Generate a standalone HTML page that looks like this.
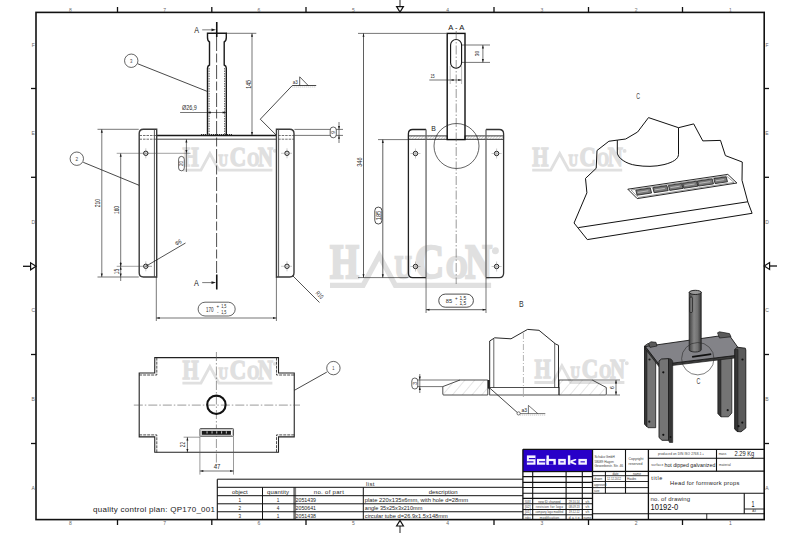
<!DOCTYPE html>
<html><head><meta charset="utf-8"><style>
html,body{margin:0;padding:0;background:#fff;}
svg{display:block;}
</style></head><body>
<svg width="800" height="533" viewBox="0 0 800 533" font-family="Liberation Sans, sans-serif">
<defs><pattern id="hat" patternUnits="userSpaceOnUse" width="2.2" height="4" patternTransform="rotate(40)"><line x1="0" y1="0" x2="0" y2="4" stroke="#777" stroke-width="0.6"/></pattern><pattern id="hat2" patternUnits="userSpaceOnUse" width="7.5" height="8" patternTransform="rotate(40)"><line x1="0" y1="0" x2="0" y2="8" stroke="#999" stroke-width="0.5"/></pattern></defs>
<rect width="800" height="533" fill="#fff"/>
<rect x="36" y="12.4" width="728.2" height="507.2" fill="none" stroke="#111" stroke-width="1.6"/>
<line x1="117.5" y1="7" x2="117.5" y2="12.4" stroke="#111" stroke-width="1.3" />
<line x1="117.5" y1="519.6" x2="117.5" y2="525" stroke="#111" stroke-width="1.3" />
<line x1="211.8" y1="7" x2="211.8" y2="12.4" stroke="#111" stroke-width="1.3" />
<line x1="211.8" y1="519.6" x2="211.8" y2="525" stroke="#111" stroke-width="1.3" />
<line x1="306" y1="7" x2="306" y2="12.4" stroke="#111" stroke-width="1.3" />
<line x1="306" y1="519.6" x2="306" y2="525" stroke="#111" stroke-width="1.3" />
<line x1="494" y1="7" x2="494" y2="12.4" stroke="#111" stroke-width="1.3" />
<line x1="494" y1="519.6" x2="494" y2="525" stroke="#111" stroke-width="1.3" />
<line x1="588.5" y1="7" x2="588.5" y2="12.4" stroke="#111" stroke-width="1.3" />
<line x1="588.5" y1="519.6" x2="588.5" y2="525" stroke="#111" stroke-width="1.3" />
<line x1="682.5" y1="7" x2="682.5" y2="12.4" stroke="#111" stroke-width="1.3" />
<line x1="682.5" y1="519.6" x2="682.5" y2="525" stroke="#111" stroke-width="1.3" />
<line x1="31" y1="88.5" x2="36" y2="88.5" stroke="#111" stroke-width="1.3" />
<line x1="764.2" y1="88.5" x2="769" y2="88.5" stroke="#111" stroke-width="1.3" />
<line x1="31" y1="177.3" x2="36" y2="177.3" stroke="#111" stroke-width="1.3" />
<line x1="764.2" y1="177.3" x2="769" y2="177.3" stroke="#111" stroke-width="1.3" />
<line x1="31" y1="354.5" x2="36" y2="354.5" stroke="#111" stroke-width="1.3" />
<line x1="764.2" y1="354.5" x2="769" y2="354.5" stroke="#111" stroke-width="1.3" />
<line x1="31" y1="443.5" x2="36" y2="443.5" stroke="#111" stroke-width="1.3" />
<line x1="764.2" y1="443.5" x2="769" y2="443.5" stroke="#111" stroke-width="1.3" />
<line x1="400" y1="0" x2="400" y2="7" stroke="#555" stroke-width="1.3" />
<polygon points="396.6,6.6 403.4,6.6 400,12" fill="none" stroke="#111" stroke-width="1.2"/>
<line x1="400" y1="526" x2="400" y2="533" stroke="#555" stroke-width="1.3" />
<polygon points="396.6,526 403.4,526 400,520.4" fill="none" stroke="#111" stroke-width="1.2"/>
<line x1="23" y1="266.3" x2="31" y2="266.3" stroke="#111" stroke-width="1.3" />
<polygon points="30.6,262.8 30.6,269.8 36,266.3" fill="none" stroke="#111" stroke-width="1.2"/>
<line x1="769" y1="266" x2="777" y2="266" stroke="#111" stroke-width="1.3" />
<polygon points="769.6,262.5 769.6,269.5 764.2,266" fill="none" stroke="#111" stroke-width="1.2"/>
<text x="70.4" y="11.5" font-size="5" fill="#666" text-anchor="middle" font-family="Liberation Sans" >8</text>
<text x="70.4" y="525" font-size="5" fill="#666" text-anchor="middle" font-family="Liberation Sans" >8</text>
<text x="164.7" y="11.5" font-size="5" fill="#666" text-anchor="middle" font-family="Liberation Sans" >7</text>
<text x="164.7" y="525" font-size="5" fill="#666" text-anchor="middle" font-family="Liberation Sans" >7</text>
<text x="259.0" y="11.5" font-size="5" fill="#666" text-anchor="middle" font-family="Liberation Sans" >6</text>
<text x="259.0" y="525" font-size="5" fill="#666" text-anchor="middle" font-family="Liberation Sans" >6</text>
<text x="353.29999999999995" y="11.5" font-size="5" fill="#666" text-anchor="middle" font-family="Liberation Sans" >5</text>
<text x="353.29999999999995" y="525" font-size="5" fill="#666" text-anchor="middle" font-family="Liberation Sans" >5</text>
<text x="447.6" y="11.5" font-size="5" fill="#666" text-anchor="middle" font-family="Liberation Sans" >4</text>
<text x="447.6" y="525" font-size="5" fill="#666" text-anchor="middle" font-family="Liberation Sans" >4</text>
<text x="541.9" y="11.5" font-size="5" fill="#666" text-anchor="middle" font-family="Liberation Sans" >3</text>
<text x="541.9" y="525" font-size="5" fill="#666" text-anchor="middle" font-family="Liberation Sans" >3</text>
<text x="636.1999999999999" y="11.5" font-size="5" fill="#666" text-anchor="middle" font-family="Liberation Sans" >2</text>
<text x="636.1999999999999" y="525" font-size="5" fill="#666" text-anchor="middle" font-family="Liberation Sans" >2</text>
<text x="730.5" y="11.5" font-size="5" fill="#666" text-anchor="middle" font-family="Liberation Sans" >1</text>
<text x="730.5" y="525" font-size="5" fill="#666" text-anchor="middle" font-family="Liberation Sans" >1</text>
<text x="33.2" y="46.5" font-size="5" fill="#666" text-anchor="middle" font-family="Liberation Sans" >F</text>
<text x="767" y="46.5" font-size="5" fill="#666" text-anchor="middle" font-family="Liberation Sans" >F</text>
<text x="33.2" y="135.1" font-size="5" fill="#666" text-anchor="middle" font-family="Liberation Sans" >E</text>
<text x="767" y="135.1" font-size="5" fill="#666" text-anchor="middle" font-family="Liberation Sans" >E</text>
<text x="33.2" y="223.7" font-size="5" fill="#666" text-anchor="middle" font-family="Liberation Sans" >D</text>
<text x="767" y="223.7" font-size="5" fill="#666" text-anchor="middle" font-family="Liberation Sans" >D</text>
<text x="33.2" y="312.29999999999995" font-size="5" fill="#666" text-anchor="middle" font-family="Liberation Sans" >C</text>
<text x="767" y="312.29999999999995" font-size="5" fill="#666" text-anchor="middle" font-family="Liberation Sans" >C</text>
<text x="33.2" y="400.9" font-size="5" fill="#666" text-anchor="middle" font-family="Liberation Sans" >B</text>
<text x="767" y="400.9" font-size="5" fill="#666" text-anchor="middle" font-family="Liberation Sans" >B</text>
<text x="33.2" y="489.5" font-size="5" fill="#666" text-anchor="middle" font-family="Liberation Sans" >A</text>
<text x="767" y="489.5" font-size="5" fill="#666" text-anchor="middle" font-family="Liberation Sans" >A</text>
<g transform="translate(182.4 148.25) scale(1)" fill="#e0e0e0" font-family="Liberation Serif" font-weight="bold" stroke="#e0e0e0" stroke-width="1.3"><text x="0" y="17.5" font-size="26.7" textLength="16.2" lengthAdjust="spacingAndGlyphs">H</text><path d="M0,21.85 L18.5,21.85 L27.5,5.2 L36.5,21.85 L90,21.85" fill="none" stroke="#e0e0e0" stroke-width="2.9" stroke-linejoin="miter"/><text x="36.2" y="17.5" font-size="17.2" textLength="9.4" lengthAdjust="spacingAndGlyphs">U</text><text x="47.3" y="17.5" font-size="26.7" textLength="16.4" lengthAdjust="spacingAndGlyphs">C</text><text x="64.8" y="17.5" font-size="17.8" textLength="12" lengthAdjust="spacingAndGlyphs">O</text><text x="75.6" y="17.5" font-size="26.7" textLength="15" lengthAdjust="spacingAndGlyphs">N</text><circle cx="92.4" cy="2.6" r="1.3"/></g>
<g transform="translate(532.2 148.3) scale(1)" fill="#e0e0e0" font-family="Liberation Serif" font-weight="bold" stroke="#e0e0e0" stroke-width="1.3"><text x="0" y="17.5" font-size="26.7" textLength="16.2" lengthAdjust="spacingAndGlyphs">H</text><path d="M0,21.85 L18.5,21.85 L27.5,5.2 L36.5,21.85 L90,21.85" fill="none" stroke="#e0e0e0" stroke-width="2.9" stroke-linejoin="miter"/><text x="36.2" y="17.5" font-size="17.2" textLength="9.4" lengthAdjust="spacingAndGlyphs">U</text><text x="47.3" y="17.5" font-size="26.7" textLength="16.4" lengthAdjust="spacingAndGlyphs">C</text><text x="64.8" y="17.5" font-size="17.8" textLength="12" lengthAdjust="spacingAndGlyphs">O</text><text x="75.6" y="17.5" font-size="26.7" textLength="15" lengthAdjust="spacingAndGlyphs">N</text><circle cx="92.4" cy="2.6" r="1.3"/></g>
<g transform="translate(330 246.2) scale(1.79)" fill="#e0e0e0" font-family="Liberation Serif" font-weight="bold" stroke="#e0e0e0" stroke-width="1.3"><text x="0" y="17.5" font-size="26.7" textLength="16.2" lengthAdjust="spacingAndGlyphs">H</text><path d="M0,21.85 L18.5,21.85 L27.5,5.2 L36.5,21.85 L90,21.85" fill="none" stroke="#e0e0e0" stroke-width="2.9" stroke-linejoin="miter"/><text x="36.2" y="17.5" font-size="17.2" textLength="9.4" lengthAdjust="spacingAndGlyphs">U</text><text x="47.3" y="17.5" font-size="26.7" textLength="16.4" lengthAdjust="spacingAndGlyphs">C</text><text x="64.8" y="17.5" font-size="17.8" textLength="12" lengthAdjust="spacingAndGlyphs">O</text><text x="75.6" y="17.5" font-size="26.7" textLength="15" lengthAdjust="spacingAndGlyphs">N</text><circle cx="92.4" cy="2.6" r="1.3"/></g>
<g transform="translate(182.4 361.25) scale(1)" fill="#e0e0e0" font-family="Liberation Serif" font-weight="bold" stroke="#e0e0e0" stroke-width="1.3"><text x="0" y="17.5" font-size="26.7" textLength="16.2" lengthAdjust="spacingAndGlyphs">H</text><path d="M0,21.85 L18.5,21.85 L27.5,5.2 L36.5,21.85 L90,21.85" fill="none" stroke="#e0e0e0" stroke-width="2.9" stroke-linejoin="miter"/><text x="36.2" y="17.5" font-size="17.2" textLength="9.4" lengthAdjust="spacingAndGlyphs">U</text><text x="47.3" y="17.5" font-size="26.7" textLength="16.4" lengthAdjust="spacingAndGlyphs">C</text><text x="64.8" y="17.5" font-size="17.8" textLength="12" lengthAdjust="spacingAndGlyphs">O</text><text x="75.6" y="17.5" font-size="26.7" textLength="15" lengthAdjust="spacingAndGlyphs">N</text><circle cx="92.4" cy="2.6" r="1.3"/></g>
<g transform="translate(534.4 360.6) scale(1)" fill="#e0e0e0" font-family="Liberation Serif" font-weight="bold" stroke="#e0e0e0" stroke-width="1.3"><text x="0" y="17.5" font-size="26.7" textLength="16.2" lengthAdjust="spacingAndGlyphs">H</text><path d="M0,21.85 L18.5,21.85 L27.5,5.2 L36.5,21.85 L90,21.85" fill="none" stroke="#e0e0e0" stroke-width="2.9" stroke-linejoin="miter"/><text x="36.2" y="17.5" font-size="17.2" textLength="9.4" lengthAdjust="spacingAndGlyphs">U</text><text x="47.3" y="17.5" font-size="26.7" textLength="16.4" lengthAdjust="spacingAndGlyphs">C</text><text x="64.8" y="17.5" font-size="17.8" textLength="12" lengthAdjust="spacingAndGlyphs">O</text><text x="75.6" y="17.5" font-size="26.7" textLength="15" lengthAdjust="spacingAndGlyphs">N</text><circle cx="92.4" cy="2.6" r="1.3"/></g>
<path d="M207.5,135.5 L207.5,68 Q207.5,66 209.5,65 L209.5,42 Q207.5,41 207.5,37.5 L207.5,33.3 L226.3,33.3 L226.3,37.5 Q226.3,41 224.2,42 L224.2,65 Q226.3,66 226.3,68 L226.3,135.5" stroke="#1a1a1a" stroke-width="1.4" fill="none" />
<path d="M201,134.6 L232,134.6" stroke="#333" stroke-width="1.2" fill="none" stroke-dasharray="1.2 0.8"/>
<line x1="216.6" y1="37" x2="216.6" y2="273" stroke="#222" stroke-width="0.8" stroke-dasharray="14 2.5 9 2.5"/>
<line x1="209.1" y1="68" x2="209.1" y2="135" stroke="#555" stroke-width="0.9" stroke-dasharray="1.5 1"/>
<line x1="224.6" y1="68" x2="224.6" y2="135" stroke="#555" stroke-width="0.9" stroke-dasharray="1.5 1"/>
<line x1="216.75" y1="22" x2="216.75" y2="37" stroke="#111" stroke-width="1.6" />
<line x1="202.2" y1="29.85" x2="212" y2="29.85" stroke="#444" stroke-width="0.7" />
<polygon points="216.00,29.85 211.50,31.15 211.50,28.55" fill="#1a1a1a"/>
<text x="196.6" y="32.75" font-size="8.4" fill="#111" text-anchor="middle" font-family="Liberation Sans"  textLength="4.8" lengthAdjust="spacingAndGlyphs">A</text>
<line x1="216.75" y1="274.5" x2="216.75" y2="289.5" stroke="#111" stroke-width="1.6" />
<line x1="202.2" y1="282.6" x2="212" y2="282.6" stroke="#444" stroke-width="0.7" />
<polygon points="216.00,282.60 211.50,283.90 211.50,281.30" fill="#1a1a1a"/>
<text x="196.4" y="285.6" font-size="8.4" fill="#111" text-anchor="middle" font-family="Liberation Sans"  textLength="4.8" lengthAdjust="spacingAndGlyphs">A</text>
<line x1="156.3" y1="135.5" x2="276.4" y2="135.5" stroke="#1a1a1a" stroke-width="1.3" />
<line x1="156.3" y1="139.2" x2="276.4" y2="139.2" stroke="#1a1a1a" stroke-width="0.8" />
<line x1="139.5" y1="135.5" x2="156.3" y2="135.5" stroke="#333" stroke-width="0.7" stroke-dasharray="2.5 1"/>
<line x1="139.5" y1="139.2" x2="156.3" y2="139.2" stroke="#333" stroke-width="0.7" stroke-dasharray="2.5 1"/>
<line x1="278.2" y1="135.5" x2="294" y2="135.5" stroke="#333" stroke-width="0.7" stroke-dasharray="2.5 1"/>
<line x1="278.2" y1="139.2" x2="294" y2="139.2" stroke="#333" stroke-width="0.7" stroke-dasharray="2.5 1"/>
<path d="M156.7,129.3 L143.4,129.3 Q139.2,129.3 139.2,133.5 L139.2,272.8 Q139.2,277 143.4,277 L156.7,277 Z" stroke="#3a3a3a" stroke-width="1.4" fill="none" />
<line x1="154.4" y1="129.3" x2="154.4" y2="277" stroke="#444" stroke-width="0.9" />
<path d="M276.45,129.3 L289.8,129.3 Q294,129.3 294,133.5 L294,272.8 Q294,277 289.8,277 L276.45,277 Z" stroke="#3a3a3a" stroke-width="1.4" fill="none" />
<line x1="278.6" y1="129.3" x2="278.6" y2="277" stroke="#444" stroke-width="0.9" />
<circle cx="145.8" cy="153.3" r="2.2" fill="none" stroke="#1a1a1a" stroke-width="1"/>
<line x1="145.8" y1="148.3" x2="145.8" y2="158.3" stroke="#777" stroke-width="0.4" />
<circle cx="145.8" cy="266.3" r="2.2" fill="none" stroke="#1a1a1a" stroke-width="1"/>
<line x1="145.8" y1="261.3" x2="145.8" y2="271.3" stroke="#777" stroke-width="0.4" />
<circle cx="287" cy="153.3" r="2.2" fill="none" stroke="#1a1a1a" stroke-width="1"/>
<line x1="287" y1="148.3" x2="287" y2="158.3" stroke="#777" stroke-width="0.4" />
<circle cx="287" cy="266.3" r="2.2" fill="none" stroke="#1a1a1a" stroke-width="1"/>
<line x1="287" y1="261.3" x2="287" y2="271.3" stroke="#777" stroke-width="0.4" />
<line x1="116.7" y1="153.3" x2="190.5" y2="153.3" stroke="#444" stroke-width="0.5" />
<line x1="116.7" y1="266.3" x2="152" y2="266.3" stroke="#444" stroke-width="0.5" />
<line x1="281" y1="153.3" x2="292" y2="153.3" stroke="#777" stroke-width="0.4" />
<line x1="281" y1="266.3" x2="292" y2="266.3" stroke="#777" stroke-width="0.4" />
<line x1="97.5" y1="129.3" x2="138.75" y2="129.3" stroke="#1a1a1a" stroke-width="0.6" />
<line x1="97.5" y1="277" x2="138.75" y2="277" stroke="#1a1a1a" stroke-width="0.6" />
<line x1="101.8" y1="129.3" x2="101.8" y2="277" stroke="#1a1a1a" stroke-width="0.6" />
<polygon points="101.80,129.50 102.80,132.70 100.80,132.70" fill="#1a1a1a"/>
<polygon points="101.80,276.80 100.80,273.60 102.80,273.60" fill="#1a1a1a"/>
<text x="99.75" y="203.1" font-size="6.3" fill="#2a2a2a" text-anchor="middle" font-family="Liberation Sans" transform="rotate(-90 99.75 203.1)"  textLength="8.25" lengthAdjust="spacingAndGlyphs">210</text>
<line x1="120.7" y1="153.3" x2="120.7" y2="266.3" stroke="#1a1a1a" stroke-width="0.6" />
<polygon points="120.70,153.50 121.70,156.70 119.70,156.70" fill="#1a1a1a"/>
<polygon points="120.70,266.10 119.70,262.90 121.70,262.90" fill="#1a1a1a"/>
<text x="118.9" y="210" font-size="6.3" fill="#2a2a2a" text-anchor="middle" font-family="Liberation Sans" transform="rotate(-90 118.9 210)"  textLength="7.9" lengthAdjust="spacingAndGlyphs">160</text>
<line x1="120.7" y1="262" x2="120.7" y2="281" stroke="#1a1a1a" stroke-width="0.6" />
<polygon points="120.70,266.50 121.70,269.70 119.70,269.70" fill="#1a1a1a"/>
<polygon points="120.70,276.80 119.70,273.60 121.70,273.60" fill="#1a1a1a"/>
<text x="118.9" y="271.6" font-size="6.3" fill="#2a2a2a" text-anchor="middle" font-family="Liberation Sans" transform="rotate(-90 118.9 271.6)"  textLength="5.3" lengthAdjust="spacingAndGlyphs">15</text>
<line x1="226" y1="33.3" x2="256.3" y2="33.3" stroke="#1a1a1a" stroke-width="0.6" />
<line x1="252" y1="33.3" x2="252" y2="135.5" stroke="#1a1a1a" stroke-width="0.6" />
<polygon points="252.00,33.50 253.00,36.70 251.00,36.70" fill="#1a1a1a"/>
<polygon points="252.00,135.30 251.00,132.10 253.00,132.10" fill="#1a1a1a"/>
<text x="250.6" y="84.4" font-size="6.3" fill="#2a2a2a" text-anchor="middle" font-family="Liberation Sans" transform="rotate(-90 250.6 84.4)"  textLength="8.75" lengthAdjust="spacingAndGlyphs">145</text>
<line x1="180.1" y1="112.5" x2="226" y2="112.5" stroke="#1a1a1a" stroke-width="0.6" />
<polygon points="207.70,112.50 210.90,111.50 210.90,113.50" fill="#1a1a1a"/>
<polygon points="225.80,112.50 222.60,113.50 222.60,111.50" fill="#1a1a1a"/>
<text x="182" y="109.6" font-size="6.5" fill="#2a2a2a" text-anchor="start" font-family="Liberation Sans"  textLength="14.8" lengthAdjust="spacingAndGlyphs">Ø26,9</text>
<line x1="186.4" y1="139.2" x2="186.4" y2="172" stroke="#1a1a1a" stroke-width="0.6" />
<polygon points="186.40,139.40 187.40,142.60 185.40,142.60" fill="#1a1a1a"/>
<polygon points="186.40,153.10 185.40,149.90 187.40,149.90" fill="#1a1a1a"/>
<rect x="178.6" y="156.4" width="5.7" height="14.4" rx="2.85" fill="#fff" stroke="#222" stroke-width="0.7"/>
<text x="183.5" y="163.6" font-size="5.8" fill="#2a2a2a" text-anchor="middle" font-family="Liberation Sans" transform="rotate(-90 183.5 163.6)"  textLength="5" lengthAdjust="spacingAndGlyphs">20</text>
<line x1="294.4" y1="129.4" x2="343" y2="129.4" stroke="#1a1a1a" stroke-width="0.6" />
<line x1="294.4" y1="135.4" x2="343" y2="135.4" stroke="#1a1a1a" stroke-width="0.6" />
<line x1="339" y1="122" x2="339" y2="143" stroke="#1a1a1a" stroke-width="0.6" />
<polygon points="339.00,129.20 338.00,126.00 340.00,126.00" fill="#1a1a1a"/>
<polygon points="339.00,135.60 340.00,138.80 338.00,138.80" fill="#1a1a1a"/>
<rect x="330.2" y="127" width="6.1" height="10.8" rx="3" fill="#fff" stroke="#222" stroke-width="0.7"/>
<text x="335.4" y="132.4" font-size="5.8" fill="#2a2a2a" text-anchor="middle" font-family="Liberation Sans" transform="rotate(-90 335.4 132.4)"  textLength="2.8" lengthAdjust="spacingAndGlyphs">9</text>
<line x1="156.3" y1="277" x2="156.3" y2="321" stroke="#1a1a1a" stroke-width="0.6" />
<line x1="276.4" y1="277" x2="276.4" y2="321" stroke="#1a1a1a" stroke-width="0.6" />
<line x1="156.3" y1="318" x2="276.4" y2="318" stroke="#1a1a1a" stroke-width="0.6" />
<polygon points="156.50,318.00 159.70,317.00 159.70,319.00" fill="#1a1a1a"/>
<polygon points="276.20,318.00 273.00,319.00 273.00,317.00" fill="#1a1a1a"/>
<rect x="198.1" y="302.2" width="37.1" height="13.8" rx="6.9" fill="#fff" stroke="#222" stroke-width="0.7"/>
<text x="209.8" y="311.8" font-size="6.6" fill="#2a2a2a" text-anchor="middle" font-family="Liberation Sans"  textLength="7.6" lengthAdjust="spacingAndGlyphs">170</text>
<text x="217.8" y="308" font-size="4.5" fill="#2a2a2a" text-anchor="middle" font-family="Liberation Sans" >+</text>
<text x="217.8" y="313.5" font-size="4.5" fill="#2a2a2a" text-anchor="middle" font-family="Liberation Sans" >-</text>
<text x="223.8" y="307.8" font-size="5.2" fill="#2a2a2a" text-anchor="middle" font-family="Liberation Sans"  textLength="5.3" lengthAdjust="spacingAndGlyphs">1,5</text>
<text x="223.8" y="313.7" font-size="5.2" fill="#2a2a2a" text-anchor="middle" font-family="Liberation Sans"  textLength="5.3" lengthAdjust="spacingAndGlyphs">1,5</text>
<line x1="145.8" y1="266.3" x2="185.5" y2="243" stroke="#1a1a1a" stroke-width="0.75" />
<text x="179.3" y="244.3" font-size="6.3" fill="#2a2a2a" text-anchor="middle" font-family="Liberation Sans" transform="rotate(-30 179.3 244.3)"  textLength="6.5" lengthAdjust="spacingAndGlyphs">Φ6</text>
<line x1="292.5" y1="275.5" x2="319.5" y2="302.5" stroke="#1a1a1a" stroke-width="0.75" />
<text x="318.2" y="296.4" font-size="6.3" fill="#2a2a2a" text-anchor="middle" font-family="Liberation Sans" transform="rotate(45 318.2 296.4)"  textLength="8" lengthAdjust="spacingAndGlyphs">R10</text>
<path d="M276.1,135 L260.3,119.2 L292.3,85.5 L316.2,85.5" stroke="#1a1a1a" stroke-width="0.8" fill="none" />
<path d="M299.7,85.5 L299.7,76.8 L308.2,85.5" stroke="#1a1a1a" stroke-width="0.7" fill="none" />
<line x1="292.3" y1="87" x2="316.2" y2="87" stroke="#555" stroke-width="0.4" stroke-dasharray="1 1"/>
<text x="295.3" y="84" font-size="5.5" fill="#2a2a2a" text-anchor="middle" font-family="Liberation Sans"  textLength="5" lengthAdjust="spacingAndGlyphs">a3</text>
<circle cx="131.25" cy="60.75" r="6.7" fill="#fff" stroke="#222" stroke-width="0.7"/>
<text x="131.25" y="62.8" font-size="5.8" fill="#444" text-anchor="middle" font-family="Liberation Sans"  textLength="2.4" lengthAdjust="spacingAndGlyphs">3</text>
<line x1="137.7" y1="63.75" x2="206.9" y2="91.25" stroke="#1a1a1a" stroke-width="0.8" />
<circle cx="76.8" cy="158.7" r="6.7" fill="#fff" stroke="#222" stroke-width="0.7"/>
<text x="76.8" y="160.8" font-size="5.8" fill="#444" text-anchor="middle" font-family="Liberation Sans"  textLength="2.6" lengthAdjust="spacingAndGlyphs">2</text>
<line x1="83.25" y1="162.3" x2="139" y2="185.25" stroke="#1a1a1a" stroke-width="0.8" />
<text x="456.3" y="30" font-size="7.6" fill="#111" text-anchor="middle" font-family="Liberation Sans"  textLength="16" lengthAdjust="spacing">A-A</text>
<rect x="408.4" y="135.9" width="38.8" height="3.4" fill="url(#hat)" stroke="#222" stroke-width="0.9"/>
<rect x="465" y="135.9" width="38.6" height="3.4" fill="url(#hat)" stroke="#222" stroke-width="0.9"/>
<rect x="447.2" y="33.4" width="17.8" height="106.2" fill="none" stroke="#111" stroke-width="1.4"/>
<rect x="450.6" y="39.5" width="11" height="28.7" rx="5.5" fill="none" stroke="#111" stroke-width="1.1"/>
<line x1="456.2" y1="31" x2="456.2" y2="284" stroke="#555" stroke-width="0.6" stroke-dasharray="9 2 1.5 2"/>
<path d="M426.05,129.5 L412.7,129.5 Q408.4,129.5 408.4,133.8 L408.4,273.3 Q408.4,277.6 412.7,277.6 L426.05,277.6" stroke="#222" stroke-width="1.3" fill="none" />
<line x1="426.05" y1="129.5" x2="426.05" y2="277.6" stroke="#666" stroke-width="1.3" />
<path d="M486,129.5 L499.3,129.5 Q503.6,129.5 503.6,133.8 L503.6,273.3 Q503.6,277.6 499.3,277.6 L486,277.6" stroke="#333" stroke-width="1.3" fill="none" />
<line x1="486" y1="129.5" x2="486" y2="277.6" stroke="#666" stroke-width="1.3" />
<circle cx="415.5" cy="153.5" r="2.2" fill="none" stroke="#1a1a1a" stroke-width="1"/>
<line x1="410.5" y1="153.5" x2="420.5" y2="153.5" stroke="#777" stroke-width="0.4" />
<line x1="415.5" y1="148.5" x2="415.5" y2="158.5" stroke="#777" stroke-width="0.4" />
<circle cx="496.6" cy="153.5" r="2.2" fill="none" stroke="#1a1a1a" stroke-width="1"/>
<line x1="491.6" y1="153.5" x2="501.6" y2="153.5" stroke="#777" stroke-width="0.4" />
<line x1="496.6" y1="148.5" x2="496.6" y2="158.5" stroke="#777" stroke-width="0.4" />
<circle cx="415.5" cy="266.5" r="2.2" fill="none" stroke="#1a1a1a" stroke-width="1"/>
<line x1="410.5" y1="266.5" x2="420.5" y2="266.5" stroke="#777" stroke-width="0.4" />
<line x1="415.5" y1="261.5" x2="415.5" y2="271.5" stroke="#777" stroke-width="0.4" />
<circle cx="496.6" cy="266.5" r="2.2" fill="none" stroke="#1a1a1a" stroke-width="1"/>
<line x1="491.6" y1="266.5" x2="501.6" y2="266.5" stroke="#777" stroke-width="0.4" />
<line x1="496.6" y1="261.5" x2="496.6" y2="271.5" stroke="#777" stroke-width="0.4" />
<circle cx="456.5" cy="146" r="22.5" fill="none" stroke="#222" stroke-width="0.7"/>
<text x="433.5" y="131.3" font-size="8" fill="#222" text-anchor="middle" font-family="Liberation Sans"  textLength="4.6" lengthAdjust="spacingAndGlyphs">B</text>
<line x1="461.6" y1="45" x2="490" y2="45" stroke="#1a1a1a" stroke-width="0.6" />
<line x1="461.6" y1="62.4" x2="490" y2="62.4" stroke="#1a1a1a" stroke-width="0.6" />
<line x1="482.9" y1="45" x2="482.9" y2="62.4" stroke="#1a1a1a" stroke-width="0.6" />
<polygon points="482.90,45.20 483.90,48.40 481.90,48.40" fill="#1a1a1a"/>
<polygon points="482.90,62.20 481.90,59.00 483.90,59.00" fill="#1a1a1a"/>
<text x="478.7" y="53.5" font-size="5.8" fill="#2a2a2a" text-anchor="middle" font-family="Liberation Sans" transform="rotate(-90 478.7 53.5)"  textLength="5.5" lengthAdjust="spacingAndGlyphs">30</text>
<line x1="429.3" y1="80" x2="461.6" y2="80" stroke="#1a1a1a" stroke-width="0.6" />
<polygon points="450.40,80.00 453.60,79.00 453.60,81.00" fill="#1a1a1a"/>
<polygon points="461.40,80.00 458.20,81.00 458.20,79.00" fill="#1a1a1a"/>
<line x1="450.2" y1="66" x2="450.2" y2="84" stroke="#555" stroke-width="0.4" />
<line x1="461.6" y1="66" x2="461.6" y2="84" stroke="#555" stroke-width="0.4" />
<text x="432.6" y="78.3" font-size="5.8" fill="#2a2a2a" text-anchor="middle" font-family="Liberation Sans"  textLength="4.3" lengthAdjust="spacingAndGlyphs">15</text>
<line x1="358" y1="33.4" x2="446.5" y2="33.4" stroke="#1a1a1a" stroke-width="0.6" />
<line x1="358" y1="277.6" x2="408.5" y2="277.6" stroke="#1a1a1a" stroke-width="0.6" />
<line x1="363.5" y1="33.4" x2="363.5" y2="277.6" stroke="#1a1a1a" stroke-width="0.7" />
<polygon points="363.50,33.60 364.50,36.80 362.50,36.80" fill="#1a1a1a"/>
<polygon points="363.50,277.40 362.50,274.20 364.50,274.20" fill="#1a1a1a"/>
<text x="362" y="162.1" font-size="6.3" fill="#2a2a2a" text-anchor="middle" font-family="Liberation Sans" transform="rotate(-90 362 162.1)"  textLength="9.3" lengthAdjust="spacingAndGlyphs">346</text>
<line x1="378" y1="139.6" x2="408.5" y2="139.6" stroke="#1a1a1a" stroke-width="0.6" />
<line x1="382.8" y1="139.6" x2="382.8" y2="277.6" stroke="#1a1a1a" stroke-width="0.7" />
<polygon points="382.80,139.80 383.80,143.00 381.80,143.00" fill="#1a1a1a"/>
<polygon points="382.80,277.40 381.80,274.20 383.80,274.20" fill="#1a1a1a"/>
<rect x="374.8" y="207.1" width="7.1" height="16.9" rx="3.5" fill="#fff" stroke="#222" stroke-width="0.8"/>
<text x="380.6" y="215.5" font-size="6.3" fill="#2a2a2a" text-anchor="middle" font-family="Liberation Sans" transform="rotate(-90 380.6 215.5)"  textLength="9.5" lengthAdjust="spacingAndGlyphs">185</text>
<line x1="426.05" y1="277.6" x2="426.05" y2="313" stroke="#1a1a1a" stroke-width="0.6" />
<line x1="486" y1="277.6" x2="486" y2="313" stroke="#1a1a1a" stroke-width="0.6" />
<line x1="426.05" y1="309.7" x2="486" y2="309.7" stroke="#1a1a1a" stroke-width="0.7" />
<polygon points="426.25,309.70 429.45,308.70 429.45,310.70" fill="#1a1a1a"/>
<polygon points="485.80,309.70 482.60,310.70 482.60,308.70" fill="#1a1a1a"/>
<rect x="438.75" y="294.1" width="34.65" height="13.1" rx="6.5" fill="#fff" stroke="#222" stroke-width="0.8"/>
<text x="449" y="303.2" font-size="6.2" fill="#2a2a2a" text-anchor="middle" font-family="Liberation Sans"  textLength="6.3" lengthAdjust="spacingAndGlyphs">85</text>
<text x="456.3" y="300" font-size="4.5" fill="#2a2a2a" text-anchor="middle" font-family="Liberation Sans" >+</text>
<text x="456.3" y="305.5" font-size="4.5" fill="#2a2a2a" text-anchor="middle" font-family="Liberation Sans" >-</text>
<text x="462.8" y="299.8" font-size="5.3" fill="#2a2a2a" text-anchor="middle" font-family="Liberation Sans"  textLength="6.8" lengthAdjust="spacingAndGlyphs">1,5</text>
<text x="462.8" y="305.3" font-size="5.3" fill="#2a2a2a" text-anchor="middle" font-family="Liberation Sans"  textLength="6.8" lengthAdjust="spacingAndGlyphs">1,5</text>
<text x="638.1" y="98.9" font-size="9.6" fill="#444" text-anchor="middle" font-family="Liberation Sans"  textLength="3.8" lengthAdjust="spacingAndGlyphs">C</text>
<path d="M574.05,223 L586.9,192.8 L585.5,178.4 L596.2,168.3 L597,150.5 L608.9,141.25 L617.3,140.1 L625.7,139 L637.6,132 L648.5,117.6 L678.5,127.7 L693.7,123.9 L702.8,140.9 L720.5,140.4 L725.4,155.6 L742.25,162 L742,180.3 L747.9,202.1 L752.1,213.3 L587.3,239.6 Z" stroke="#111" stroke-width="1.0" fill="none" />
<line x1="578.4" y1="227.6" x2="747.9" y2="201.75" stroke="#111" stroke-width="1.0" />
<line x1="617.3" y1="140.1" x2="617.3" y2="153.1" stroke="#111" stroke-width="1.0" />
<line x1="678.5" y1="127.7" x2="678.5" y2="154.3" stroke="#111" stroke-width="1.0" />
<path d="M617.3,153.1 C618,158 626,164 636,165.3 C645,166.8 655,166.8 664,164.6 C673,162.3 678.5,159 678.5,154.3" stroke="#111" stroke-width="1.0" fill="none" />
<path d="M627.8,189.2 L727.8,174.4 L736.9,183 L637.2,198.6 Z" stroke="#111" stroke-width="0.9" fill="none" />
<path d="M631,190 L726.3,175.9 L734,182.4 L638.2,197.4 Z" stroke="#444" stroke-width="0.5" fill="none" />
<polygon points="635.8,190.2 650.3,188.0 651.6,193.0 637.1,195.2" fill="#7a7a7a" stroke="#1a1a1a" stroke-width="0.8"/>
<line x1="637.8" y1="192.4" x2="648.3" y2="190.8" stroke="#ccc" stroke-width="0.8"/>
<polygon points="652.8,187.7 666.9,185.6 668.2,190.6 654.1,192.7" fill="#7a7a7a" stroke="#1a1a1a" stroke-width="0.8"/>
<line x1="654.8" y1="189.9" x2="664.9" y2="188.4" stroke="#ccc" stroke-width="0.8"/>
<polygon points="668.4,185.4 681.7,183.4 683.0,188.4 669.7,190.4" fill="#7a7a7a" stroke="#1a1a1a" stroke-width="0.8"/>
<line x1="670.4" y1="187.6" x2="679.7" y2="186.2" stroke="#ccc" stroke-width="0.8"/>
<polygon points="682.5,183.3 696.6,181.2 697.9,186.2 683.8,188.3" fill="#7a7a7a" stroke="#1a1a1a" stroke-width="0.8"/>
<line x1="684.5" y1="185.5" x2="694.6" y2="184.0" stroke="#ccc" stroke-width="0.8"/>
<polygon points="697.3,181.1 712.2,178.9 713.5,183.9 698.6,186.1" fill="#7a7a7a" stroke="#1a1a1a" stroke-width="0.8"/>
<line x1="699.3" y1="183.3" x2="710.2" y2="181.7" stroke="#ccc" stroke-width="0.8"/>
<polygon points="713.8,178.6 726.2,176.8 727.5,181.8 715.1,183.6" fill="#7a7a7a" stroke="#1a1a1a" stroke-width="0.8"/>
<line x1="715.8" y1="180.8" x2="724.2" y2="179.6" stroke="#ccc" stroke-width="0.8"/>
<path d="M154.75,357.65 L278.5,357.65 L278.5,373 L294.25,373 L294.25,436.9 L278.5,436.9 L278.5,452.3 L154.75,452.3 L154.75,436.9 L139.2,436.9 L139.2,373 L154.75,373 Z" stroke="#222" stroke-width="1.1" fill="none" />
<path d="M156.8,357.65 L156.8,375 L139.2,375" stroke="#222" stroke-width="0.8" fill="none" stroke-dasharray="3 1"/>
<path d="M276.5,357.65 L276.5,375 L294.25,375" stroke="#222" stroke-width="0.8" fill="none" stroke-dasharray="3 1"/>
<path d="M294.25,434.9 L276.5,434.9 L276.5,452.3" stroke="#222" stroke-width="0.8" fill="none" stroke-dasharray="3 1"/>
<path d="M139.2,434.9 L156.8,434.9 L156.8,452.3" stroke="#222" stroke-width="0.8" fill="none" stroke-dasharray="3 1"/>
<line x1="216.4" y1="352" x2="216.4" y2="468" stroke="#555" stroke-width="0.6" stroke-dasharray="9 2 1.5 2"/>
<line x1="133.8" y1="405.1" x2="300" y2="405.1" stroke="#555" stroke-width="0.6" stroke-dasharray="9 2 1.5 2"/>
<circle cx="216.4" cy="404.8" r="9.2" fill="none" stroke="#111" stroke-width="2.1"/>
<rect x="199.9" y="428.5" width="33.6" height="7.8" rx="0.8" fill="#fff" stroke="#333" stroke-width="0.8"/>
<rect x="201" y="429.6" width="31.4" height="5.6" fill="none" stroke="#777" stroke-width="0.4"/>
<rect x="201.8" y="430.8" width="29.1" height="4" fill="#1a1a1a"/>
<rect x="206.5" y="431.3" width="1.1" height="2.2" fill="#bbb"/>
<rect x="211.5" y="431.3" width="1.1" height="2.2" fill="#bbb"/>
<rect x="216.2" y="431.3" width="1.1" height="2.2" fill="#bbb"/>
<rect x="221" y="431.3" width="1.1" height="2.2" fill="#bbb"/>
<rect x="225.8" y="431.3" width="1.1" height="2.2" fill="#bbb"/>
<line x1="183.6" y1="437.2" x2="199.9" y2="437.2" stroke="#555" stroke-width="0.6" />
<line x1="187.4" y1="437.2" x2="187.4" y2="452.3" stroke="#1a1a1a" stroke-width="0.6" />
<polygon points="187.40,437.40 188.40,440.60 186.40,440.60" fill="#1a1a1a"/>
<polygon points="187.40,452.10 186.40,448.90 188.40,448.90" fill="#1a1a1a"/>
<text x="184.6" y="444.6" font-size="6.3" fill="#2a2a2a" text-anchor="middle" font-family="Liberation Sans" transform="rotate(-90 184.6 444.6)"  textLength="5.2" lengthAdjust="spacingAndGlyphs">22</text>
<line x1="199.9" y1="436.3" x2="199.9" y2="474.6" stroke="#555" stroke-width="0.6" />
<line x1="233.5" y1="436.3" x2="233.5" y2="474.6" stroke="#555" stroke-width="0.6" />
<line x1="199.9" y1="471" x2="233.5" y2="471" stroke="#1a1a1a" stroke-width="0.6" />
<polygon points="200.10,471.00 203.30,470.00 203.30,472.00" fill="#1a1a1a"/>
<polygon points="233.30,471.00 230.10,472.00 230.10,470.00" fill="#1a1a1a"/>
<text x="217" y="468.9" font-size="6.3" fill="#2a2a2a" text-anchor="middle" font-family="Liberation Sans"  textLength="6.7" lengthAdjust="spacingAndGlyphs">47</text>
<circle cx="333.4" cy="368.1" r="6.7" fill="#fff" stroke="#222" stroke-width="0.7"/>
<text x="333.4" y="370.2" font-size="5.8" fill="#444" text-anchor="middle" font-family="Liberation Sans"  textLength="2.2" lengthAdjust="spacingAndGlyphs">1</text>
<line x1="326.8" y1="372.1" x2="294.4" y2="390.3" stroke="#1a1a1a" stroke-width="0.8" />
<text x="521.3" y="307" font-size="8.6" fill="#333" text-anchor="middle" font-family="Liberation Sans"  textLength="4.7" lengthAdjust="spacingAndGlyphs">B</text>
<path d="M460,380 L487.8,380 L487.8,395 L443.6,395 Q442.8,395 442.8,394 L442.8,386.6 Z" fill="url(#hat2)" stroke="#222" stroke-width="0.8"/>
<path d="M559,380 L592.2,380 L606.3,387.5 L606.3,394 Q606.3,395 605.3,395 L559,395 Z" fill="url(#hat2)" stroke="#222" stroke-width="0.8"/>
<rect x="489.7" y="387.5" width="69.3" height="7.5" fill="none" stroke="#222" stroke-width="0.8"/>
<path d="M489.7,387.5 L489.7,341 L494.7,337.8 L511,338.8 L527.6,329.4 L539,330.3 L555.6,344 L558.5,345.3 L558.5,387.5" stroke="#111" stroke-width="0.9" fill="none" />
<line x1="493.8" y1="339" x2="493.8" y2="387.5" stroke="#222" stroke-width="0.7" />
<line x1="554.7" y1="343" x2="554.7" y2="387.5" stroke="#222" stroke-width="0.7" />
<line x1="523.4" y1="333" x2="523.4" y2="398" stroke="#666" stroke-width="0.5" stroke-dasharray="6 2 1 2"/>
<polygon points="487.8,380 489.7,380 489.7,390 487.8,388" fill="#222"/>
<line x1="414" y1="380" x2="460" y2="380" stroke="#1a1a1a" stroke-width="0.6" />
<line x1="414" y1="386.6" x2="442.8" y2="386.6" stroke="#1a1a1a" stroke-width="0.6" />
<line x1="419.8" y1="374" x2="419.8" y2="393" stroke="#1a1a1a" stroke-width="0.6" />
<polygon points="419.80,379.80 418.80,376.60 420.80,376.60" fill="#1a1a1a"/>
<polygon points="419.80,386.80 420.80,390.00 418.80,390.00" fill="#1a1a1a"/>
<rect x="411.8" y="378" width="6" height="11" rx="3" fill="#fff" stroke="#222" stroke-width="0.7"/>
<text x="416.6" y="383.4" font-size="5" fill="#222" text-anchor="middle" font-family="Liberation Sans" transform="rotate(-90 416.6 383.4)" >3</text>
<line x1="592.2" y1="380" x2="620" y2="380" stroke="#1a1a1a" stroke-width="0.6" />
<line x1="606.3" y1="395" x2="620" y2="395" stroke="#1a1a1a" stroke-width="0.6" />
<line x1="616" y1="380" x2="616" y2="395" stroke="#1a1a1a" stroke-width="0.6" />
<polygon points="616.00,380.20 617.00,383.40 615.00,383.40" fill="#1a1a1a"/>
<polygon points="616.00,394.80 615.00,391.60 617.00,391.60" fill="#1a1a1a"/>
<text x="613.6" y="387.6" font-size="5" fill="#222" text-anchor="middle" font-family="Liberation Sans" transform="rotate(-90 613.6 387.6)" >6</text>
<line x1="489.7" y1="388" x2="517.2" y2="412.4" stroke="#1a1a1a" stroke-width="0.8" />
<circle cx="518.6" cy="413.4" r="1.6" fill="none" stroke="#222" stroke-width="0.6"/>
<line x1="520.2" y1="413.6" x2="545.3" y2="413.6" stroke="#1a1a1a" stroke-width="0.6" />
<line x1="520.2" y1="415.1" x2="545.3" y2="415.1" stroke="#666" stroke-width="0.4" stroke-dasharray="1 1"/>
<path d="M528.4,413.6 L528.4,405.4 L537.8,413.6" stroke="#1a1a1a" stroke-width="0.6" fill="none" />
<text x="524.2" y="412.3" font-size="5" fill="#222" text-anchor="middle" font-family="Liberation Sans" >a3</text>
<polygon points="718,356 731.8,354 731.8,413 728.5,416.8 721,416.8 718,413.5" fill="#747474" stroke="#1a1a1a" stroke-width="0.8" stroke-linejoin="round"/>
<polygon points="718,356 721,356 721,416.8 718,413.5" fill="#363636" stroke="#1a1a1a" stroke-width="0.5" stroke-linejoin="round"/>
<circle cx="727.7" cy="410.2" r="1.1" fill="#1a1a1a"/>
<polygon points="644.5,346 648,343.5 655.7,346 655.7,427.7 648,427.7 644.5,424" fill="#747474" stroke="#1a1a1a" stroke-width="0.8" stroke-linejoin="round"/>
<polygon points="644.5,346 647,347 647,427 644.5,424" fill="#363636" stroke="#1a1a1a" stroke-width="0.5" stroke-linejoin="round"/>
<circle cx="649.3" cy="421.7" r="1.1" fill="#1a1a1a"/>
<circle cx="649.5" cy="359.5" r="1.1" fill="#1a1a1a"/>
<polygon points="645.3,346.5 659.3,364.7 743,354.6 743,357 659.3,367 645.3,349" fill="#3c3c3c" stroke="#1a1a1a" stroke-width="0.7" stroke-linejoin="round"/>
<polygon points="645.3,346.5 728.8,334.6 743,354.6 659.3,364.7" fill="#838388" stroke="#1a1a1a" stroke-width="0.9" stroke-linejoin="round"/>
<polygon points="648.5,343.5 651,341.8 656,342.3 657,346 650,347.4" fill="#5a5a5a" stroke="#1a1a1a" stroke-width="0.7" stroke-linejoin="round"/>
<polygon points="717.5,332.8 719.5,331.8 729.5,333.6 731,336.8 719.5,338" fill="#5a5a5a" stroke="#1a1a1a" stroke-width="0.7" stroke-linejoin="round"/>
<defs><linearGradient id="tg" x1="0" x2="1"><stop offset="0" stop-color="#404040"/><stop offset="0.4" stop-color="#858585"/><stop offset="0.7" stop-color="#727272"/><stop offset="1" stop-color="#363636"/></linearGradient></defs>
<path d="M689.2,292.2 L689.2,349.8 A6,2.2 0 0 0 701.2,349.8 L701.2,292.2 Z" fill="url(#tg)" stroke="#1a1a1a" stroke-width="0.8"/>
<ellipse cx="695.25" cy="292.4" rx="6" ry="2.1" fill="#999" stroke="#151515" stroke-width="0.9"/>
<rect x="689.9" y="297" width="2.4" height="15.5" rx="1" fill="#8a8a8a" stroke="#151515" stroke-width="0.8"/>
<line x1="692.1" y1="356.9" x2="711.2" y2="354.1" stroke="#111" stroke-width="1.9" />
<polygon points="659,361 661.5,359 668.5,358.6 668.5,440.3 662,440.3 659,437.5" fill="#747474" stroke="#1a1a1a" stroke-width="0.9" stroke-linejoin="round"/>
<polygon points="668.5,358.6 671,359 672.7,361 672.7,442.5 669.5,442.5 668.5,440.3" fill="#363636" stroke="#1a1a1a" stroke-width="0.6" stroke-linejoin="round"/>
<circle cx="663.3" cy="372.3" r="1.1" fill="#111"/>
<circle cx="663.3" cy="434.8" r="1.1" fill="#111"/>
<circle cx="670.5" cy="437" r="0.9" fill="#111"/>
<polygon points="734.8,349.5 737,347.2 745.3,348.2 745.8,350 745.8,428 741,431.8 737,431.5 734.8,429" fill="#5a5a5a" stroke="#1a1a1a" stroke-width="0.9" stroke-linejoin="round"/>
<polygon points="734.8,349.5 738,349.5 738,431.5 734.8,429" fill="#363636" stroke="#1a1a1a" stroke-width="0.5" stroke-linejoin="round"/>
<circle cx="742.3" cy="422.6" r="1.1" fill="#111"/>
<circle cx="738.5" cy="426.2" r="1.1" fill="#111"/>
<circle cx="742.5" cy="359.5" r="1.1" fill="#111"/>
<circle cx="697.8" cy="358.7" r="16.2" fill="none" stroke="#2a2a2a" stroke-width="0.6"/>
<text x="698.4" y="384.3" font-size="9.4" fill="#444" text-anchor="middle" font-family="Liberation Sans"  textLength="3.9" lengthAdjust="spacingAndGlyphs">C</text>
<rect x="522.9" y="449.5" width="69.7" height="22" fill="#2800c8"/>
<rect x="526.9" y="455.4" width="8.6" height="9.3" fill="#f4f2ff"/>
<rect x="528.9" y="458.0" width="6.6" height="1.2" fill="#2800c8"/>
<rect x="526.9" y="461.3" width="6.6" height="1.2" fill="#2800c8"/>
<rect x="537" y="458.9" width="8.2" height="5.8" fill="#f4f2ff"/>
<rect x="539" y="461.2" width="6.2" height="1.2" fill="#2800c8"/>
<rect x="546.5" y="455.4" width="2.4" height="9.3" fill="#f4f2ff"/>
<rect x="546.5" y="458.9" width="9.3" height="5.8" fill="#f4f2ff"/>
<rect x="548.9" y="461.1" width="4.5" height="3.6" fill="#2800c8"/>
<rect x="558.2" y="458.9" width="7.6" height="5.8" fill="#f4f2ff"/>
<rect x="560.3" y="461.3" width="3.5" height="1.1" fill="#2800c8"/>
<rect x="567.9" y="455.4" width="2.4" height="9.3" fill="#f4f2ff"/>
<rect x="578.4" y="458.9" width="8.5" height="5.8" fill="#f4f2ff"/>
<rect x="580.5" y="461.3" width="4.4" height="1.1" fill="#2800c8"/>
<polygon points="570.3,460.6 575,458.9 576.2,458.9 576.2,460.2 572.4,461.8 576.2,463.4 576.2,464.7 575,464.7 570.3,463" fill="#f4f2ff"/>
<line x1="522.9" y1="449.3" x2="764.2" y2="449.3" stroke="#111" stroke-width="1.3" />
<line x1="522.9" y1="449.3" x2="522.9" y2="519.6" stroke="#111" stroke-width="1.3" />
<line x1="592.5" y1="449.3" x2="592.5" y2="519.6" stroke="#111" stroke-width="1.3" />
<line x1="648.4" y1="449.3" x2="648.4" y2="519.6" stroke="#111" stroke-width="1.3" />
<line x1="625.5" y1="449.3" x2="625.5" y2="493.2" stroke="#111" stroke-width="1.1" />
<line x1="605.4" y1="471.4" x2="605.4" y2="493.2" stroke="#111" stroke-width="1.0" />
<line x1="522.9" y1="471.6" x2="764.2" y2="471.2" stroke="#111" stroke-width="1.3" />
<line x1="522.9" y1="476.6" x2="592.5" y2="476.6" stroke="#111" stroke-width="1.1" />
<line x1="522.9" y1="482.4" x2="592.5" y2="482.4" stroke="#111" stroke-width="1.1" />
<line x1="522.9" y1="487.5" x2="592.5" y2="487.5" stroke="#111" stroke-width="1.1" />
<line x1="522.9" y1="493.3" x2="592.5" y2="493.3" stroke="#111" stroke-width="1.1" />
<line x1="522.9" y1="498.4" x2="592.5" y2="498.4" stroke="#111" stroke-width="1.1" />
<line x1="522.9" y1="503.7" x2="592.5" y2="503.7" stroke="#111" stroke-width="1.1" />
<line x1="522.9" y1="509.55" x2="592.5" y2="509.55" stroke="#111" stroke-width="1.1" />
<line x1="522.9" y1="514.8" x2="592.5" y2="514.8" stroke="#111" stroke-width="1.1" />
<line x1="532.7" y1="471.6" x2="532.7" y2="519.6" stroke="#111" stroke-width="1.1" />
<line x1="566.1" y1="471.6" x2="566.1" y2="519.6" stroke="#111" stroke-width="1.1" />
<line x1="582.3" y1="471.6" x2="582.3" y2="519.6" stroke="#111" stroke-width="1.1" />
<line x1="592.5" y1="475.7" x2="648.4" y2="475.7" stroke="#111" stroke-width="0.9" />
<line x1="592.5" y1="481.5" x2="648.4" y2="481.5" stroke="#111" stroke-width="0.9" />
<line x1="592.5" y1="487.6" x2="648.4" y2="487.6" stroke="#111" stroke-width="0.9" />
<line x1="592.5" y1="493.25" x2="764.2" y2="493.25" stroke="#111" stroke-width="1.2" />
<line x1="592.5" y1="513.8" x2="764.2" y2="513.8" stroke="#111" stroke-width="1.1" />
<line x1="648.4" y1="458.25" x2="764.2" y2="458.25" stroke="#111" stroke-width="1.1" />
<line x1="716.5" y1="449.3" x2="716.5" y2="471.2" stroke="#111" stroke-width="1.1" />
<line x1="744.25" y1="493.25" x2="744.25" y2="513.8" stroke="#111" stroke-width="1.1" />
<line x1="744.25" y1="509" x2="764.2" y2="509" stroke="#111" stroke-width="0.9" />
<line x1="706.75" y1="513.8" x2="706.75" y2="519.6" stroke="#111" stroke-width="0.9" />
<text x="594.5" y="458.4" font-size="3.6" fill="#3a3a3a" text-anchor="start" font-family="Liberation Sans"  textLength="20.3" lengthAdjust="spacingAndGlyphs">Schako GmbH</text>
<text x="594.5" y="462.8" font-size="3.6" fill="#3a3a3a" text-anchor="start" font-family="Liberation Sans"  textLength="19.2" lengthAdjust="spacingAndGlyphs">58089 Hagen</text>
<text x="594.5" y="466.75" font-size="3.6" fill="#3a3a3a" text-anchor="start" font-family="Liberation Sans"  textLength="28.7" lengthAdjust="spacingAndGlyphs">Gewerbestr. Str. 46</text>
<text x="628.6" y="460.2" font-size="3.6" fill="#3a3a3a" text-anchor="start" font-family="Liberation Sans"  textLength="14.8" lengthAdjust="spacingAndGlyphs">Copyright</text>
<text x="628.6" y="465" font-size="3.6" fill="#3a3a3a" text-anchor="start" font-family="Liberation Sans"  textLength="14" lengthAdjust="spacingAndGlyphs">reserved</text>
<text x="658" y="455.3" font-size="3.2" fill="#3a3a3a" text-anchor="start" font-family="Liberation Sans"  textLength="45.7" lengthAdjust="spacing">produced on DIN ISO 2768-1 ▪</text>
<text x="718.75" y="455.3" font-size="3.2" fill="#3a3a3a" text-anchor="start" font-family="Liberation Sans"  textLength="7.5" lengthAdjust="spacingAndGlyphs">mass</text>
<text x="734.5" y="456.2" font-size="6.4" fill="#222" text-anchor="start" font-family="Liberation Sans"  textLength="19.8" lengthAdjust="spacingAndGlyphs">2.29 Kg</text>
<text x="651.25" y="466.3" font-size="3.2" fill="#3a3a3a" text-anchor="start" font-family="Liberation Sans"  textLength="12" lengthAdjust="spacing">surface</text>
<text x="664.5" y="466.5" font-size="6.2" fill="#222" text-anchor="start" font-family="Liberation Sans"  textLength="50.8" lengthAdjust="spacingAndGlyphs">hot dipped galvanized</text>
<text x="719" y="466.2" font-size="3.2" fill="#3a3a3a" text-anchor="start" font-family="Liberation Sans"  textLength="11.7" lengthAdjust="spacing">material</text>
<text x="651.25" y="479.7" font-size="5.4" fill="#222" text-anchor="start" font-family="Liberation Sans"  textLength="11" lengthAdjust="spacing">title</text>
<text x="670" y="485.3" font-size="5.8" fill="#222" text-anchor="start" font-family="Liberation Sans"  textLength="69.3" lengthAdjust="spacing">Head for formwork props</text>
<text x="650.5" y="500.75" font-size="6" fill="#333" text-anchor="start" font-family="Liberation Sans"  textLength="39.7" lengthAdjust="spacing">no. of drawing</text>
<text x="650.5" y="509.75" font-size="8.4" fill="#111" text-anchor="start" font-family="Liberation Sans"  textLength="27.75" lengthAdjust="spacingAndGlyphs">10192-0</text>
<text x="753" y="507.2" font-size="8.8" fill="#111" text-anchor="middle" font-family="Liberation Sans"  textLength="3" lengthAdjust="spacingAndGlyphs">1</text>
<text x="754" y="512.3" font-size="3" fill="#3a3a3a" text-anchor="middle" font-family="Liberation Sans" >A3</text>
<text x="615.5" y="474.8" font-size="3.2" fill="#3a3a3a" text-anchor="middle" font-family="Liberation Sans" >date</text>
<text x="637" y="474.8" font-size="3.2" fill="#3a3a3a" text-anchor="middle" font-family="Liberation Sans" >name</text>
<text x="594" y="480.3" font-size="3" fill="#3a3a3a" text-anchor="start" font-family="Liberation Sans" >drawn</text>
<text x="607" y="480.3" font-size="3.2" fill="#3a3a3a" text-anchor="start" font-family="Liberation Sans"  textLength="14" lengthAdjust="spacingAndGlyphs">12.12.2012</text>
<text x="627" y="480.3" font-size="3.2" fill="#3a3a3a" text-anchor="start" font-family="Liberation Sans" >Haubs</text>
<text x="594" y="486.3" font-size="3" fill="#3a3a3a" text-anchor="start" font-family="Liberation Sans" >approved</text>
<text x="594" y="491.8" font-size="3" fill="#3a3a3a" text-anchor="start" font-family="Liberation Sans" >size</text>
<text x="527.8" y="502.6" font-size="3.3" fill="#3a3a3a" text-anchor="middle" font-family="Liberation Sans"  textLength="5.5" lengthAdjust="spacingAndGlyphs">[03]</text>
<text x="549.4" y="502.6" font-size="3.3" fill="#3a3a3a" text-anchor="middle" font-family="Liberation Sans"  textLength="22.400000000000002" lengthAdjust="spacingAndGlyphs">new ID changed</text>
<text x="574.2" y="502.6" font-size="3.3" fill="#3a3a3a" text-anchor="middle" font-family="Liberation Sans"  textLength="11" lengthAdjust="spacingAndGlyphs">29.10.14</text>
<text x="587.4" y="502.6" font-size="3.3" fill="#3a3a3a" text-anchor="middle" font-family="Liberation Sans"  textLength="3.8" lengthAdjust="spacing">vh</text>
<text x="527.8" y="508.0" font-size="3.3" fill="#3a3a3a" text-anchor="middle" font-family="Liberation Sans"  textLength="5.5" lengthAdjust="spacingAndGlyphs">[02]</text>
<text x="549.4" y="508.0" font-size="3.3" fill="#3a3a3a" text-anchor="middle" font-family="Liberation Sans"  textLength="27.200000000000003" lengthAdjust="spacing">revision for logo</text>
<text x="574.2" y="508.0" font-size="3.3" fill="#3a3a3a" text-anchor="middle" font-family="Liberation Sans"  textLength="11" lengthAdjust="spacingAndGlyphs">08.09.13</text>
<text x="587.4" y="508.0" font-size="3.3" fill="#3a3a3a" text-anchor="middle" font-family="Liberation Sans"  textLength="3.8" lengthAdjust="spacing">vh</text>
<text x="527.8" y="513.4" font-size="3.3" fill="#3a3a3a" text-anchor="middle" font-family="Liberation Sans"  textLength="5.5" lengthAdjust="spacingAndGlyphs">[01]</text>
<text x="549.4" y="513.4" font-size="3.3" fill="#3a3a3a" text-anchor="middle" font-family="Liberation Sans"  textLength="28" lengthAdjust="spacingAndGlyphs">company logo modifed</text>
<text x="574.2" y="513.4" font-size="3.3" fill="#3a3a3a" text-anchor="middle" font-family="Liberation Sans"  textLength="11" lengthAdjust="spacingAndGlyphs">19.12.12</text>
<text x="587.4" y="513.4" font-size="3.3" fill="#3a3a3a" text-anchor="middle" font-family="Liberation Sans"  textLength="3.8" lengthAdjust="spacing">vh</text>
<text x="527.8" y="518.8000000000001" font-size="3.3" fill="#3a3a3a" text-anchor="middle" font-family="Liberation Sans"  textLength="5.5" lengthAdjust="spacingAndGlyphs">index</text>
<text x="549.4" y="518.8000000000001" font-size="3.3" fill="#3a3a3a" text-anchor="middle" font-family="Liberation Sans"  textLength="19.200000000000003" lengthAdjust="spacing">modification</text>
<text x="574.2" y="518.8000000000001" font-size="3.3" fill="#3a3a3a" text-anchor="middle" font-family="Liberation Sans"  textLength="11" lengthAdjust="spacing">date</text>
<text x="587.4" y="518.8000000000001" font-size="3.3" fill="#3a3a3a" text-anchor="middle" font-family="Liberation Sans"  textLength="7.6" lengthAdjust="spacingAndGlyphs">name</text>
<line x1="217.3" y1="479.2" x2="522.9" y2="479.2" stroke="#111" stroke-width="1.0" />
<line x1="217.3" y1="487.3" x2="522.9" y2="487.3" stroke="#111" stroke-width="1.0" />
<line x1="217.3" y1="495.7" x2="522.9" y2="495.7" stroke="#111" stroke-width="1.0" />
<line x1="217.3" y1="503.8" x2="522.9" y2="503.8" stroke="#111" stroke-width="1.0" />
<line x1="217.3" y1="511.75" x2="522.9" y2="511.75" stroke="#111" stroke-width="1.0" />
<line x1="217.3" y1="479.2" x2="217.3" y2="519.6" stroke="#111" stroke-width="1.1" />
<line x1="262.5" y1="487.3" x2="262.5" y2="519.6" stroke="#111" stroke-width="1.0" />
<line x1="294.1" y1="487.3" x2="294.1" y2="519.6" stroke="#111" stroke-width="1.0" />
<line x1="363.3" y1="487.3" x2="363.3" y2="519.6" stroke="#111" stroke-width="1.0" />
<line x1="295.6" y1="487.3" x2="295.6" y2="519.6" stroke="#111" stroke-width="0.6" />
<text x="366" y="485.6" font-size="6" fill="#262626" text-anchor="start" font-family="Liberation Sans"  textLength="8.5" lengthAdjust="spacing">list</text>
<text x="239.8" y="493.9" font-size="6" fill="#262626" text-anchor="middle" font-family="Liberation Sans"  textLength="15.6" lengthAdjust="spacingAndGlyphs">object</text>
<text x="278" y="493.9" font-size="6" fill="#262626" text-anchor="middle" font-family="Liberation Sans"  textLength="22" lengthAdjust="spacing">quantity</text>
<text x="328.8" y="493.9" font-size="6" fill="#262626" text-anchor="middle" font-family="Liberation Sans"  textLength="30" lengthAdjust="spacing">no. of part</text>
<text x="443.2" y="493.9" font-size="6" fill="#262626" text-anchor="middle" font-family="Liberation Sans"  textLength="29" lengthAdjust="spacingAndGlyphs">description</text>
<text x="239.8" y="501.8" font-size="6" fill="#262626" text-anchor="middle" font-family="Liberation Sans"  textLength="2.6" lengthAdjust="spacingAndGlyphs">1</text>
<text x="278" y="501.8" font-size="6" fill="#262626" text-anchor="middle" font-family="Liberation Sans"  textLength="2.6" lengthAdjust="spacingAndGlyphs">1</text>
<text x="295.6" y="501.8" font-size="6" fill="#262626" text-anchor="start" font-family="Liberation Sans"  textLength="20.4" lengthAdjust="spacingAndGlyphs">2051439</text>
<text x="364.8" y="501.8" font-size="6" fill="#262626" text-anchor="start" font-family="Liberation Sans"  textLength="103.2" lengthAdjust="spacingAndGlyphs">plate 220x135x6mm, with hole d=28mm</text>
<text x="239.8" y="509.7" font-size="6" fill="#262626" text-anchor="middle" font-family="Liberation Sans"  textLength="2.6" lengthAdjust="spacingAndGlyphs">2</text>
<text x="278" y="509.7" font-size="6" fill="#262626" text-anchor="middle" font-family="Liberation Sans"  textLength="2.6" lengthAdjust="spacingAndGlyphs">4</text>
<text x="295.6" y="509.7" font-size="6" fill="#262626" text-anchor="start" font-family="Liberation Sans"  textLength="20.4" lengthAdjust="spacingAndGlyphs">2050641</text>
<text x="364.8" y="509.7" font-size="6" fill="#262626" text-anchor="start" font-family="Liberation Sans"  textLength="57.5" lengthAdjust="spacingAndGlyphs">angle 35x25x3x210mm</text>
<text x="239.8" y="517.6" font-size="6" fill="#262626" text-anchor="middle" font-family="Liberation Sans"  textLength="2.6" lengthAdjust="spacingAndGlyphs">3</text>
<text x="278" y="517.6" font-size="6" fill="#262626" text-anchor="middle" font-family="Liberation Sans"  textLength="2.6" lengthAdjust="spacingAndGlyphs">1</text>
<text x="295.6" y="517.6" font-size="6" fill="#262626" text-anchor="start" font-family="Liberation Sans"  textLength="20.4" lengthAdjust="spacingAndGlyphs">2051438</text>
<text x="364.8" y="517.6" font-size="6" fill="#262626" text-anchor="start" font-family="Liberation Sans"  textLength="83" lengthAdjust="spacingAndGlyphs">circular tube d=26.9x1.5x148mm</text>
<text x="93" y="512.4" font-size="8" fill="#1a1a1a" text-anchor="start" font-family="Liberation Sans"  textLength="122" lengthAdjust="spacing">quality control plan: QP170_001</text>
</svg></body></html>
